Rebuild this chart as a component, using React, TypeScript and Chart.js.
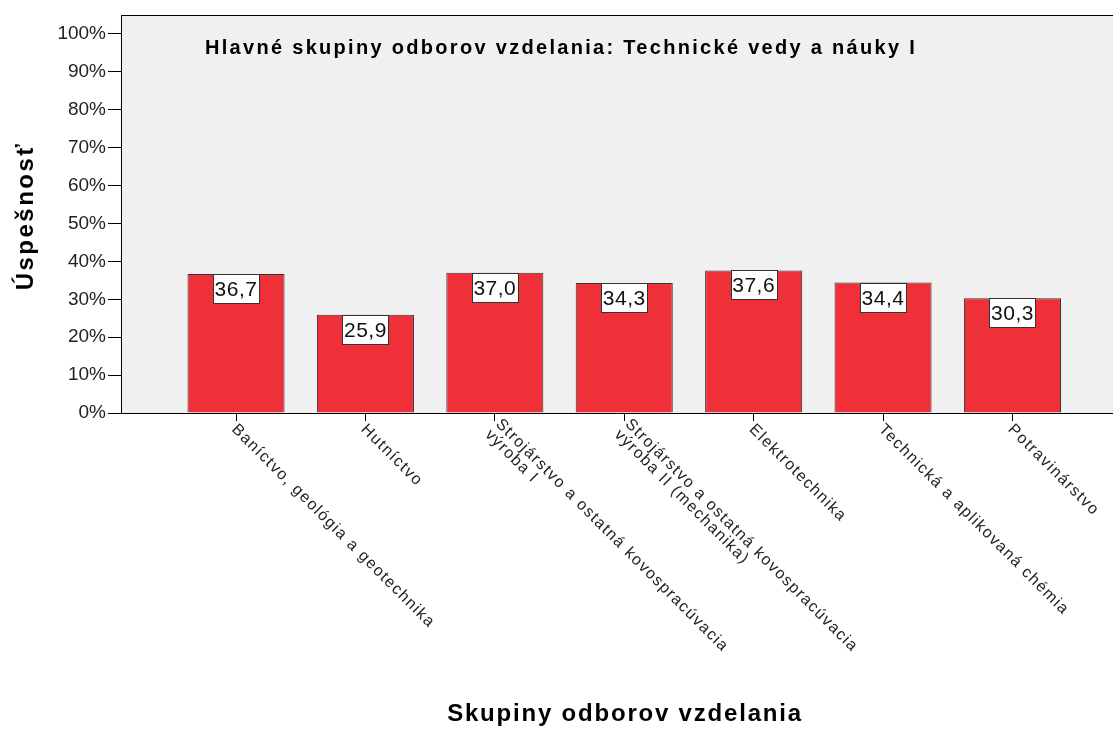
import React, { useEffect, useRef } from "react";
import { Chart, registerables } from "chart.js";

Chart.register(...registerables);

const chartTitle = "Hlavné skupiny odborov vzdelania: Technické vedy a náuky I";
const yAxisTitle = "Úspešnosť";
const xAxisTitle = "Skupiny odborov vzdelania";

const categories: string[][] = [
  ["Baníctvo, geológia a geotechnika"],
  ["Hutníctvo"],
  ["Strojárstvo a ostatná kovospracúvacia", "výroba I"],
  ["Strojárstvo a ostatná kovospracúvacia", "výroba II (mechanika)"],
  ["Elektrotechnika"],
  ["Technická a aplikovaná chémia"],
  ["Potravinárstvo"],
];

const values: number[] = [36.7, 25.9, 37.0, 34.3, 37.6, 34.4, 30.3];

const yTickValues: number[] = [0, 10, 20, 30, 40, 50, 60, 70, 80, 90, 100];

const FONT = "'Liberation Sans', Arial, sans-serif";

const decorPlugin = {
  id: "decor",
  beforeDraw(chart: any) {
    const { ctx, chartArea } = chart;
    ctx.save();
    ctx.fillStyle = "#f0f0f0";
    ctx.fillRect(chartArea.left, chartArea.top, chartArea.right - chartArea.left, chartArea.bottom - chartArea.top);
    ctx.strokeStyle = "#000";
    ctx.lineWidth = 1;
    ctx.beginPath();
    ctx.moveTo(chartArea.left, chartArea.top + 0.5);
    ctx.lineTo(chartArea.right, chartArea.top + 0.5);
    ctx.stroke();
    ctx.restore();
  },
  afterDatasetsDraw(chart: any) {
    const { ctx } = chart;
    const meta = chart.getDatasetMeta(0);
    ctx.save();
    ctx.font = `21px ${FONT}`;
    ctx.letterSpacing = "0.5px";
    ctx.textAlign = "center";
    ctx.textBaseline = "middle";
    meta.data.forEach((el: any, i: number) => {
      const txt = values[i].toFixed(1).replace(".", ",");
      const w = Math.round(ctx.measureText(txt).width) + 3;
      const h = 29;
      const x = Math.round(el.x - w / 2) + 0.5;
      const y = Math.round(el.y) + 0.5;
      ctx.fillStyle = "#ffffff";
      ctx.fillRect(x, y, w, h);
      ctx.strokeStyle = "#333";
      ctx.lineWidth = 1;
      ctx.strokeRect(x, y, w, h);
      ctx.fillStyle = "#111";
      ctx.fillText(txt, el.x, y + h / 2 + 1);
    });
    ctx.restore();
  },
  afterDraw(chart: any) {
    const { ctx } = chart;
    const xs = chart.scales.x;
    const bottom = chart.chartArea.bottom;
    ctx.save();
    // category labels
    ctx.font = `16px ${FONT}`;
    ctx.letterSpacing = "1.4px";
    ctx.fillStyle = "#222";
    ctx.textAlign = "left";
    ctx.textBaseline = "middle";
    const lh = 15;
    categories.forEach((lines, i) => {
      const px = xs.getPixelForValue(i);
      ctx.save();
      ctx.translate(px - 2, bottom + 14);
      ctx.rotate(Math.PI / 4);
      lines.forEach((ln, j) => {
        const off = (j - (lines.length - 1) / 2) * lh;
        ctx.fillText(ln, 0, off);
      });
      ctx.restore();
    });
    // chart title
    ctx.font = `bold 20px ${FONT}`;
    ctx.letterSpacing = "2.3px";
    ctx.fillStyle = "#000";
    ctx.textAlign = "left";
    ctx.fillText(chartTitle, 205, 48);
    // x axis title
    ctx.font = `bold 24px ${FONT}`;
    ctx.letterSpacing = "1.8px";
    ctx.textAlign = "center";
    ctx.fillText(xAxisTitle, 625, 714);
    // y axis title
    ctx.save();
    ctx.letterSpacing = "2.5px";
    ctx.translate(26, 216);
    ctx.rotate(-Math.PI / 2);
    ctx.fillText(yAxisTitle, 0, 0);
    ctx.restore();
    ctx.restore();
  },
};

export default function App() {
  const ref = useRef<HTMLCanvasElement | null>(null);
  useEffect(() => {
    document.body.style.margin = "0";
    const canvas = ref.current;
    if (!canvas) return;
    const chart = new Chart(canvas, {
      type: "bar",
      data: {
        datasets: [
          {
            data: values.map((v, i) => ({ x: i, y: v })),
            backgroundColor: "#ef3039",
            borderColor: "#333",
            borderWidth: 1,
            barPercentage: 0.75,
            categoryPercentage: 1,
          },
        ],
      },
      options: {
        animation: false,
        responsive: false,
        maintainAspectRatio: false,
        layout: { padding: { top: 15, left: 0, right: 0, bottom: 0 } },
        plugins: { legend: { display: false }, tooltip: { enabled: false }, title: { display: false } },
        scales: {
          x: {
            type: "linear",
            offset: false,
            min: -0.889,
            max: 6.777,
            afterBuildTicks: (s: any) => {
              s.ticks = categories.map((_, i) => ({ value: i }));
            },
            afterFit: (s: any) => {
              s.height = 316;
            },
            ticks: { display: false },
            grid: { display: true, offset: false, drawOnChartArea: false, drawTicks: true, tickLength: 8, color: "#000", lineWidth: 1 },
            border: { display: true, color: "#000", width: 1 },
          },
          y: {
            type: "linear",
            min: 0,
            max: 105,
            afterBuildTicks: (s: any) => {
              s.ticks = yTickValues.map((v) => ({ value: v }));
            },
            afterFit: (s: any) => {
              s.width = 121;
            },
            ticks: {
              callback: (v: any) => `${v}%`,
              font: { family: FONT, size: 19 },
              color: "#222",
              padding: 2,
            },
            grid: { display: true, drawOnChartArea: false, drawTicks: true, tickLength: 13, color: "#000", lineWidth: 1 },
            border: { display: true, color: "#000", width: 1 },
          },
        },
      },
      plugins: [decorPlugin],
    });
    return () => chart.destroy();
  }, []);
  return (
    <div style={{ position: "fixed", left: 0, top: 0, width: 1113, height: 729, background: "#fff" }}>
      <canvas ref={ref} width={1113} height={729} style={{ width: 1113, height: 729, display: "block" }} />
    </div>
  );
}
